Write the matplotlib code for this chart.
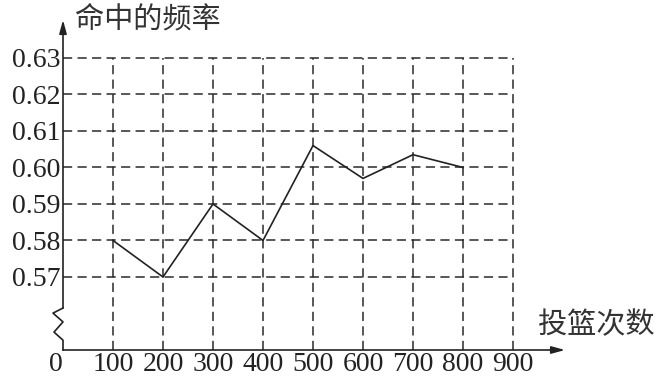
import matplotlib.pyplot as plt

# data
shots = [100, 200, 300, 400, 500, 600, 700, 800]
hit_rate = [0.58, 0.57, 0.59, 0.58, 0.606, 0.597, 0.6035, 0.600]
x_ticks = [100, 200, 300, 400, 500, 600, 700, 800, 900]
y_ticks = [0.57, 0.58, 0.59, 0.60, 0.61, 0.62, 0.63]
y_label = "命中的频率"
x_label = "投篮次数"

ink = "#222222"
num_font = "Liberation Serif"
cjk_font = ["Noto Sans CJK SC", "DejaVu Sans"]

fig = plt.figure(figsize=(6.63, 3.8), dpi=100)
ax = fig.add_axes([63 / 663, 30 / 380, 502 / 663, 330 / 380])
ax.set_xlim(0, 1004)
ax.set_ylim(0.55, 0.6404)
for side in ax.spines.values():
    side.set_visible(False)

# dashed grid
dash = (0, (6, 3.5))
ax.hlines(y_ticks, 0, x_ticks[-1], colors="#2a2a2a", linewidth=1.1, linestyles=dash)
ax.vlines(x_ticks, 0.55, y_ticks[-1], colors="#2a2a2a", linewidth=1.1, linestyles=dash)

# the line
ax.plot(shots, hit_rate, color=ink, linewidth=1.2)

# axes with arrows and the break mark on the y axis
arrow = dict(arrowstyle="-|>,head_length=0.8,head_width=0.22", lw=1.2, color=ink,
             shrinkA=0, shrinkB=0)
ax.annotate("", xy=(1004, 0.55), xytext=(0, 0.55), arrowprops=arrow, annotation_clip=False)
ax.annotate("", xy=(0, 0.6404), xytext=(0, 0.5615), arrowprops=arrow, annotation_clip=False)
ax.plot([0, -20, 0, -18, 0, 0], [0.5615, 0.5601, 0.5577, 0.5549, 0.5527, 0.55],
        color=ink, linewidth=1.2, clip_on=False)

# tick labels
ax.set_xticks(x_ticks)
ax.set_xticklabels([str(v) for v in x_ticks])
ax.set_yticks(y_ticks)
ax.set_yticklabels(["%.2f" % v for v in y_ticks])
ax.tick_params(axis="both", length=0, labelsize=20, labelcolor=ink)
ax.tick_params(axis="y", pad=2)
ax.tick_params(axis="x", pad=1.5)
for lab in ax.get_xticklabels() + ax.get_yticklabels():
    lab.set_fontfamily(num_font)
ax.text(-14, 0.5495, "0", fontsize=20, family=num_font, color=ink,
        ha="center", va="top")

ax.text(24, 0.6404, y_label, fontsize=21, family=cjk_font, fontweight="light",
        color="#333333", ha="left", va="center", clip_on=False)
ax.text(950, 0.5568, x_label, fontsize=21, family=cjk_font, fontweight="light",
        color="#333333", ha="left", va="center", clip_on=False)

fig.savefig("out.png", dpi=100)
